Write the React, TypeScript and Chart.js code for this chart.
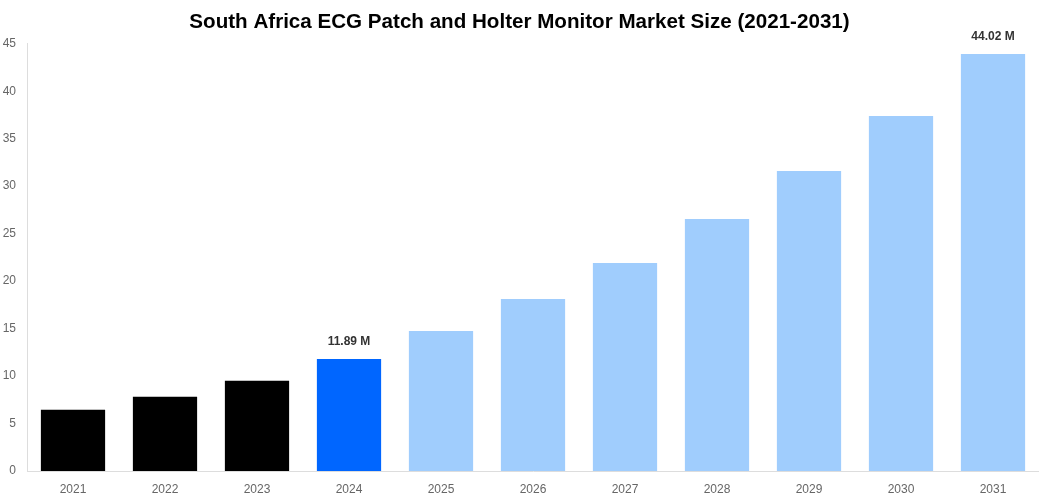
import { useEffect, useRef } from 'react';
import Chart from 'chart.js/auto';
import type { Plugin } from 'chart.js';

const years = ['2021', '2022', '2023', '2024', '2025', '2026', '2027', '2028', '2029', '2030', '2031'];
const marketSize = [6.55, 7.92, 9.6, 11.89, 14.86, 18.22, 22.01, 26.65, 31.7, 37.48, 44.02];
const barColors = [
  '#000000', '#000000', '#000000', '#0066FF',
  '#A0CDFD', '#A0CDFD', '#A0CDFD', '#A0CDFD', '#A0CDFD', '#A0CDFD', '#A0CDFD',
];
const valueLabels = ['', '', '', '11.89 M', '', '', '', '', '', '', '44.02 M'];
const yTicks = [0, 5, 10, 15, 20, 25, 30, 35, 40, 45];

const fontFamily = '"Liberation Sans", Arial, sans-serif';

const valueLabelPlugin: Plugin<'bar'> = {
  id: 'valueLabels',
  afterDatasetsDraw(chart) {
    const { ctx } = chart;
    const meta = chart.getDatasetMeta(0);
    ctx.save();
    ctx.font = `bold 12px ${fontFamily}`;
    ctx.fillStyle = '#333333';
    ctx.textAlign = 'center';
    ctx.textBaseline = 'bottom';
    meta.data.forEach((bar, i) => {
      const text = valueLabels[i];
      if (!text) return;
      ctx.fillText(text, bar.x, bar.y - 10);
    });
    ctx.restore();
  },
};

export default function App() {
  const canvasRef = useRef<HTMLCanvasElement | null>(null);

  useEffect(() => {
    document.body.style.margin = '0';
    if (!canvasRef.current) return;

    const chart = new Chart(canvasRef.current, {
      type: 'bar',
      plugins: [valueLabelPlugin],
      data: {
        labels: years,
        datasets: [
          {
            data: marketSize,
            backgroundColor: barColors,
            borderColor: 'rgba(255,255,255,0.3)',
            borderWidth: 1,
          },
        ],
      },
      options: {
        animation: false,
        responsive: true,
        maintainAspectRatio: false,
        layout: { padding: 0 },
        plugins: {
          legend: { display: false },
          tooltip: { enabled: false },
          title: {
            display: true,
            text: 'South Africa ECG Patch and Holter Monitor Market Size (2021-2031)',
            color: '#000000',
            font: { family: fontFamily, size: 20.6, weight: 'bold' },
            padding: { top: 10, bottom: 9 },
          },
        },
        scales: {
          x: {
            grid: { display: false, drawTicks: false },
            border: { display: true, color: '#dddddd' },
            ticks: {
              color: '#666666',
              font: { family: fontFamily, size: 12 },
              padding: 11,
            },
            afterFit: (scale) => {
              scale.height = 29;
            },
          },
          y: {
            min: 0,
            max: 45,
            afterBuildTicks: (axis) => {
              axis.ticks = yTicks.map((value) => ({ value }));
            },
            grid: { display: false, drawTicks: false },
            border: { display: true, color: '#dddddd' },
            ticks: {
              color: '#666666',
              font: { family: fontFamily, size: 12 },
              padding: 11,
            },
            afterFit: (scale) => {
              scale.width = 27;
            },
          },
        },
      },
    });

    return () => {
      chart.destroy();
    };
  }, []);

  return (
    <div style={{ width: 1039, height: 500, position: 'relative' }}>
      <canvas ref={canvasRef} />
    </div>
  );
}
